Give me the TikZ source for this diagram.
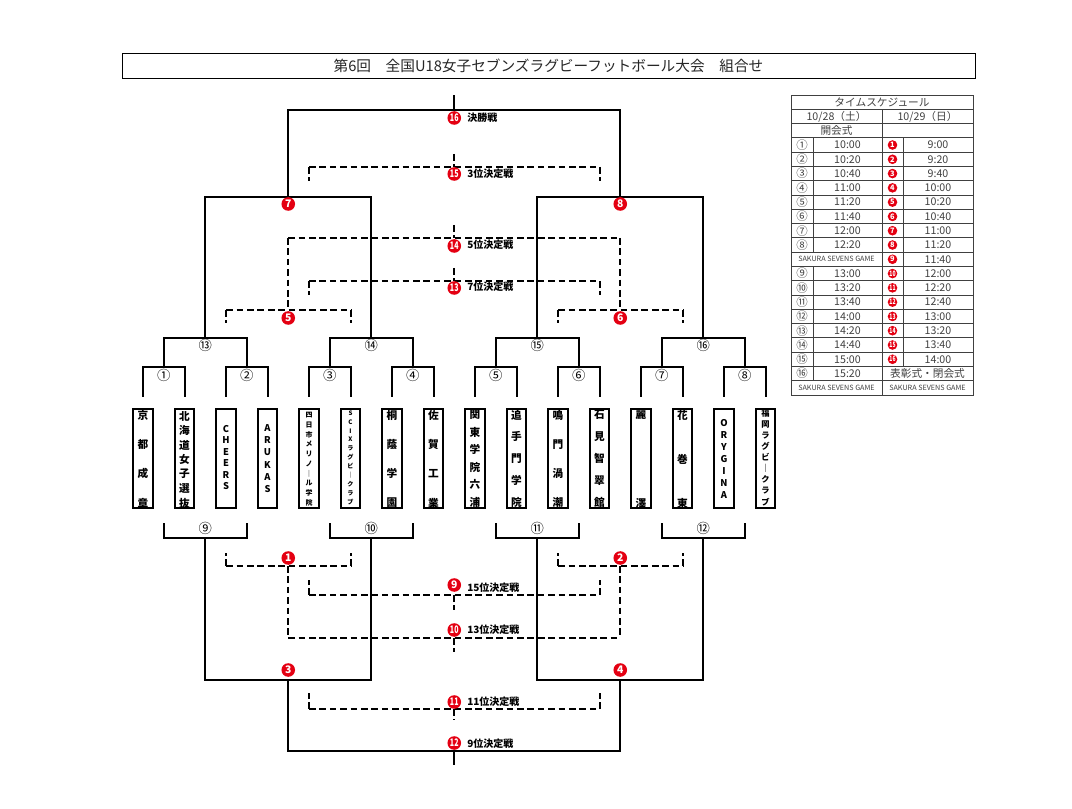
\documentclass[tikz,border=0pt]{standalone}
\usepackage{fontspec}
\usepackage{graphicx}
\setmainfont{Noto Sans CJK JP}
\definecolor{rd}{RGB}{228,0,18}
\definecolor{tg}{RGB}{64,64,64}
\newcommand\two[1]{\scalebox{0.68}[1]{#1}}
\newcommand\fs[1]{\fontsize{#1}{#1}\selectfont}
\newcommand\vname[6]{%
  \foreach \ch [count=\k] in {#6} {
    \node[inner sep=0, font=\bfseries\fs{#5}] (#1-\k) at (#2, {#3+#4*(\k-1)}) {\ch};
  }}
\begin{document}
\begin{tikzpicture}[x=0.75pt,y=-0.75pt,
  br/.style={line width=1.5pt},
  dsh/.style={line width=1.5pt, dash pattern=on 5pt off 2.8pt},
  teambox/.style={draw, line width=1.6pt, minimum width=14.4pt, minimum height=74pt, inner sep=0},
  rn/.style={circle, fill=rd, text=white, inner sep=0, minimum size=10.2pt, font=\bfseries\fs{7.8}},
  trn/.style={circle, fill=rd, text=white, inner sep=0, minimum size=7.2pt, font=\bfseries\fs{5.6}},
  cn/.style={inner sep=0, font=\fs{10}},
  lbl/.style={anchor=west, inner sep=0, font=\bfseries\fs{7.5}},
  tl/.style={line width=0.6pt, black!75},
  tt/.style={inner sep=0, text=tg, font=\fs{8}},
  tc/.style={inner sep=0, text=tg, font=\fs{8.6}},
  ts/.style={inner sep=0, text=tg, font=\fs{5.4}},
]
\useasboundingbox (0,0) rectangle (1072,809);

% title
\node[draw, line width=0.6pt, minimum width=639.75pt, minimum height=18.75pt, inner sep=0,
      text=black!85, font=\fs{11}] (title) at (548.5,65.5)
  {第6回　全国U18女子セブンズラグビーフットボール大会　組合せ};

% team boxes
\foreach \i in {1,...,16} {
  \pgfmathsetmacro\cx{143+41.5*(\i-1)}
  \node[teambox] (t\i) at (\cx,458.5) {};
}
\vname{n1}{143}{415}{29.33}{8}{京,都,成,章}
\vname{n2}{184.5}{416}{14.5}{8}{北,海,道,女,子,選,抜}
\vname{n3}{226}{429}{11.4}{7}{C,H,E,E,R,S}
\vname{n4}{267.5}{428}{12.2}{7}{A,R,U,K,A,S}
\vname{n5}{309}{415}{9.78}{5.2}{四,日,市,メ,リ,ノ,｜,ル,学,院}
\vname{n6}{350.5}{413}{8.9}{4.6}{S,C,I,X,ラ,グ,ビ,｜,ク,ラ,ブ}
\vname{n7}{392}{415}{29.33}{8}{桐,蔭,学,園}
\vname{n8}{433.5}{415}{29.33}{8}{佐,賀,工,業}
\vname{n9}{475}{415}{17.4}{8}{関,東,学,院,六,浦}
\vname{n10}{516.5}{415}{21.75}{8}{追,手,門,学,院}
\vname{n11}{558}{415}{29.33}{8}{鳴,門,渦,潮}
\vname{n12}{599.5}{415}{21.75}{8}{石,見,智,翠,館}
\vname{n13}{641}{415}{88}{8}{麗,澤}
\vname{n14}{682.5}{415}{44}{8}{花,巻,東}
\vname{n15}{724}{423}{12}{7}{O,R,Y,G,I,N,A}
\vname{n16}{765.5}{413}{11.1}{6.2}{福,岡,ラ,グ,ビ,｜,ク,ラ,ブ}

% ---------- upper bracket ----------
\foreach \i/\lab in {0/①,1/②,2/③,3/④,4/⑤,5/⑥,6/⑦,7/⑧} {
  \pgfmathsetmacro\xa{143+83*\i}
  \pgfmathsetmacro\xb{\xa+41.5}
  \pgfmathsetmacro\xm{\xa+20.75}
  \draw[br] (\xa,397) -- (\xa,367) -- (\xb,367) -- (\xb,397);
  \node[cn] (r1-\i) at (\xm,375) {\lab};
}
\foreach \j/\lab in {0/⑬,1/⑭,2/⑮,3/⑯} {
  \pgfmathsetmacro\xa{163.75+166*\j}
  \pgfmathsetmacro\xb{\xa+83}
  \pgfmathsetmacro\xm{\xa+41.5}
  \draw[br] (\xa,367) -- (\xa,338) -- (\xb,338) -- (\xb,367);
  \node[cn] (qf-\j) at (\xm,345) {\lab};
}
\foreach \j in {0,1} {
  \pgfmathsetmacro\xa{205.25+332*\j}
  \pgfmathsetmacro\xb{\xa+166}
  \draw[br] (\xa,338) -- (\xa,197) -- (\xb,197) -- (\xb,338);
}
\draw[br] (288.25,197) -- (288.25,110) -- (620.25,110) -- (620.25,197);
\draw[br] (454.25,110) -- (454.25,95);

% dashed upper
\draw[dsh] (309,167) -- (600,167);
\draw[dsh] (309,167) -- (309,181);
\draw[dsh] (600,167) -- (600,181);
\draw[dsh] (454.25,154) -- (454.25,167);
\draw[dsh] (288.25,238) -- (620.25,238);
\draw[dsh] (288.25,238) -- (288.25,310);
\draw[dsh] (620.25,238) -- (620.25,310);
\draw[dsh] (454.25,225) -- (454.25,238);
\draw[dsh] (309,281) -- (600,281);
\draw[dsh] (309,281) -- (309,295);
\draw[dsh] (600,281) -- (600,295);
\draw[dsh] (454.25,268) -- (454.25,281);
\foreach \j in {0,1} {
  \pgfmathsetmacro\xm{288.25+332*\j}
  \draw[dsh] ({\xm-62},310) -- ({\xm+63},310);
  \draw[dsh] ({\xm-62},310) -- ({\xm-62},323);
  \draw[dsh] ({\xm+63},310) -- ({\xm+63},323);
}

% ---------- lower bracket ----------
\foreach \j/\lab in {0/⑨,1/⑩,2/⑪,3/⑫} {
  \pgfmathsetmacro\xa{163.75+166*\j}
  \pgfmathsetmacro\xb{\xa+83}
  \pgfmathsetmacro\xm{\xa+41.5}
  \draw[br] (\xa,523) -- (\xa,538) -- (\xb,538) -- (\xb,523);
  \node[cn] (lb-\j) at (\xm,528) {\lab};
}
\foreach \j in {0,1} {
  \pgfmathsetmacro\xa{205.25+332*\j}
  \pgfmathsetmacro\xb{\xa+166}
  \draw[br] (\xa,538) -- (\xa,680) -- (\xb,680) -- (\xb,538);
}
\draw[br] (288.25,680) -- (288.25,751) -- (620.25,751) -- (620.25,680);
\draw[br] (454.25,751) -- (454.25,765);

\foreach \j in {0,1} {
  \pgfmathsetmacro\xm{288.25+332*\j}
  \draw[dsh] ({\xm-62},566) -- ({\xm+63},566);
  \draw[dsh] ({\xm-62},566) -- ({\xm-62},553);
  \draw[dsh] ({\xm+63},566) -- ({\xm+63},553);
  \draw[dsh] (\xm,566) -- (\xm,638);
}
\draw[dsh] (288.25,638) -- (620.25,638);
\draw[dsh] (454.25,638) -- (454.25,652);
\draw[dsh] (309,595) -- (600,595);
\draw[dsh] (309,595) -- (309,580);
\draw[dsh] (600,595) -- (600,580);
\draw[dsh] (454.25,595) -- (454.25,610);
\draw[dsh] (309,709) -- (600,709);
\draw[dsh] (309,709) -- (309,693);
\draw[dsh] (600,709) -- (600,693);
\draw[dsh] (454.25,709) -- (454.25,720);

% red match numbers
\node[rn] (g7) at (288.25,204) {7};
\node[rn] (g8) at (620.25,204) {8};
\node[rn] (g5) at (288.25,318) {5};
\node[rn] (g6) at (620.25,318) {6};
\node[rn] (g1) at (288.25,558) {1};
\node[rn] (g2) at (620.25,558) {2};
\node[rn] (g3) at (288.25,670) {3};
\node[rn] (g4) at (620.25,670) {4};
\node[rn] (g16) at (454.25,118) {\two{16}};
\node[rn] (g15) at (454.25,174) {\two{15}};
\node[rn] (g14) at (454.25,246) {\two{14}};
\node[rn] (g13) at (454.25,288) {\two{13}};
\node[rn] (g9)  at (454.25,585) {9};
\node[rn] (g10) at (454.25,630) {\two{10}};
\node[rn] (g11) at (454.25,702) {\two{11}};
\node[rn] (g12) at (454.25,743) {\two{12}};
\node[lbl] (l16) at (467,118) {決勝戦};
\node[lbl] (l15) at (467,174) {3位決定戦};
\node[lbl] (l14) at (467,245) {5位決定戦};
\node[lbl] (l13) at (467,287) {7位決定戦};
\node[lbl] (l9)  at (467,588) {15位決定戦};
\node[lbl] (l10) at (467,630) {13位決定戦};
\node[lbl] (l11) at (467,702) {11位決定戦};
\node[lbl] (l12) at (467,744) {9位決定戦};

% ---------- time schedule ----------
\def\th{14.2857}
\draw[tl] (791,95) rectangle (973,395);
\foreach \i in {1,...,20} { \draw[tl] (791,{95+\th*\i}) -- (973,{95+\th*\i}); }
\draw[tl] (882,{95+\th}) -- (882,395);
\draw[tl] (813,{95+3*\th}) -- (813,{95+11*\th});
\draw[tl] (813,{95+12*\th}) -- (813,{95+20*\th});
\draw[tl] (903,{95+3*\th}) -- (903,{95+19*\th});
\node[tt] (h0) at (882,{95+0.5*\th}) {タイムスケジュール};
\node[tt] (h1a) at (836.5,{95+1.5*\th}) {10/28（土）};
\node[tt] (h1b) at (927.5,{95+1.5*\th}) {10/29（日）};
\node[tt] (h2a) at (836.5,{95+2.5*\th}) {開会式};
\foreach \i/\a/\b/\c/\d in {3/①/10:00/1/9:00, 4/②/10:20/2/9:20, 5/③/10:40/3/9:40,
   6/④/11:00/4/10:00, 7/⑤/11:20/5/10:20, 8/⑥/11:40/6/10:40, 9/⑦/12:00/7/11:00,
   10/⑧/12:20/8/11:20, 12/⑨/13:00/\two{10}/12:00, 13/⑩/13:20/\two{11}/12:20,
   14/⑪/13:40/\two{12}/12:40, 15/⑫/14:00/\two{13}/13:00, 16/⑬/14:20/\two{14}/13:20,
   17/⑭/14:40/\two{15}/13:40, 18/⑮/15:00/\two{16}/14:00} {
  \pgfmathsetmacro\yc{95+\th*(\i+0.5)}
  \node[tc] (ra\i) at (802,\yc) {\a};
  \node[tt] (rb\i) at (847.5,\yc) {\b};
  \node[trn] (rc\i) at (892.5,\yc) {\c};
  \node[tt] (rd\i) at (938,\yc) {\d};
}
\pgfmathsetmacro\yk{95+\th*11.5}
\node[ts] (s11) at (836.5,\yk) {SAKURA SEVENS GAME};
\node[trn] (rc11) at (892.5,\yk) {9};
\node[tt] (rd11) at (938,\yk) {11:40};
\pgfmathsetmacro\yn{95+\th*19.5}
\node[tc] (ra19) at (802,\yn) {⑯};
\node[tt] (rb19) at (847.5,\yn) {15:20};
\node[tt] (rd19) at (927.5,\yn) {表彰式・閉会式};
\pgfmathsetmacro\yl{95+\th*20.5}
\node[ts] (s20a) at (836.5,\yl) {SAKURA SEVENS GAME};
\node[ts] (s20b) at (927.5,\yl) {SAKURA SEVENS GAME};
\end{tikzpicture}
\end{document}
